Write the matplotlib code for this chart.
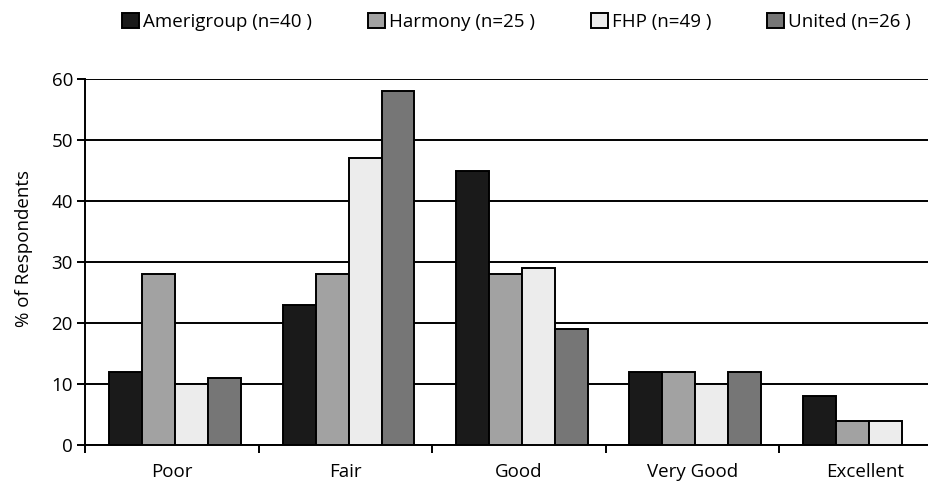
import matplotlib.pyplot as plt
import numpy as np

plt.rcParams['font.family'] = ['Open Sans', 'DejaVu Sans']

categories = ['Poor', 'Fair', 'Good', 'Very Good', 'Excellent']
series_names = ['Amerigroup (n=40 )', 'Harmony (n=25 )', 'FHP (n=49 )', 'United (n=26 )']
amerigroup = [12, 23, 45, 12, 8]
harmony = [28, 28, 28, 12, 4]
fhp = [10, 47, 29, 10, 4]
united = [11, 58, 19, 12, 0]
colors = ['#1a1a1a', '#a2a2a2', '#ececec', '#767676']

fig = plt.figure(figsize=(9.29, 4.87), dpi=100)
# the plot area runs past the right edge of the image, as in the original
ax = fig.add_axes([0.092, 0.0862, 0.933, 0.7515])

x = np.arange(len(categories))
width = 0.19
values = [amerigroup, harmony, fhp, united]
for i, (vals, name, c) in enumerate(zip(values, series_names, colors)):
	ax.bar(x + (i - 1.5) * width + 0.018, vals, width, color=c, edgecolor='black',
		linewidth=1.4, label=name, zorder=3)

ax.set_xlim(-0.5, 4.5)
ax.set_ylim(0, 60)
ax.set_yticks(range(0, 61, 10))
ax.yaxis.grid(True, color='black', linewidth=1.4, zorder=0)
ax.set_axisbelow(True)
ax.set_xticks(x)
ax.set_xticklabels(categories, fontsize=13.5)
ax.tick_params(axis='x', which='major', length=0, pad=13)
ax.set_xticks(np.arange(-0.5, 4.6, 1), minor=True)
ax.tick_params(axis='x', which='minor', length=6, width=1.4, direction='out')
ax.tick_params(axis='y', length=6, width=1.4, labelsize=13.5, pad=3)
ax.set_ylabel('% of Respondents', fontsize=13.5)
ax.yaxis.set_label_coords(-0.06, 0.538)
for s in ['top', 'right']:
	ax.spines[s].set_visible(False)
for s in ['left', 'bottom']:
	ax.spines[s].set_linewidth(1.4)

fig.legend(loc='center', bbox_to_anchor=(0.556, 0.955), ncol=4, frameon=False,
	fontsize=13.5, handlelength=0.9, handleheight=0.9, handletextpad=0.2, columnspacing=3.0)

fig.savefig('out.png', dpi=100)
